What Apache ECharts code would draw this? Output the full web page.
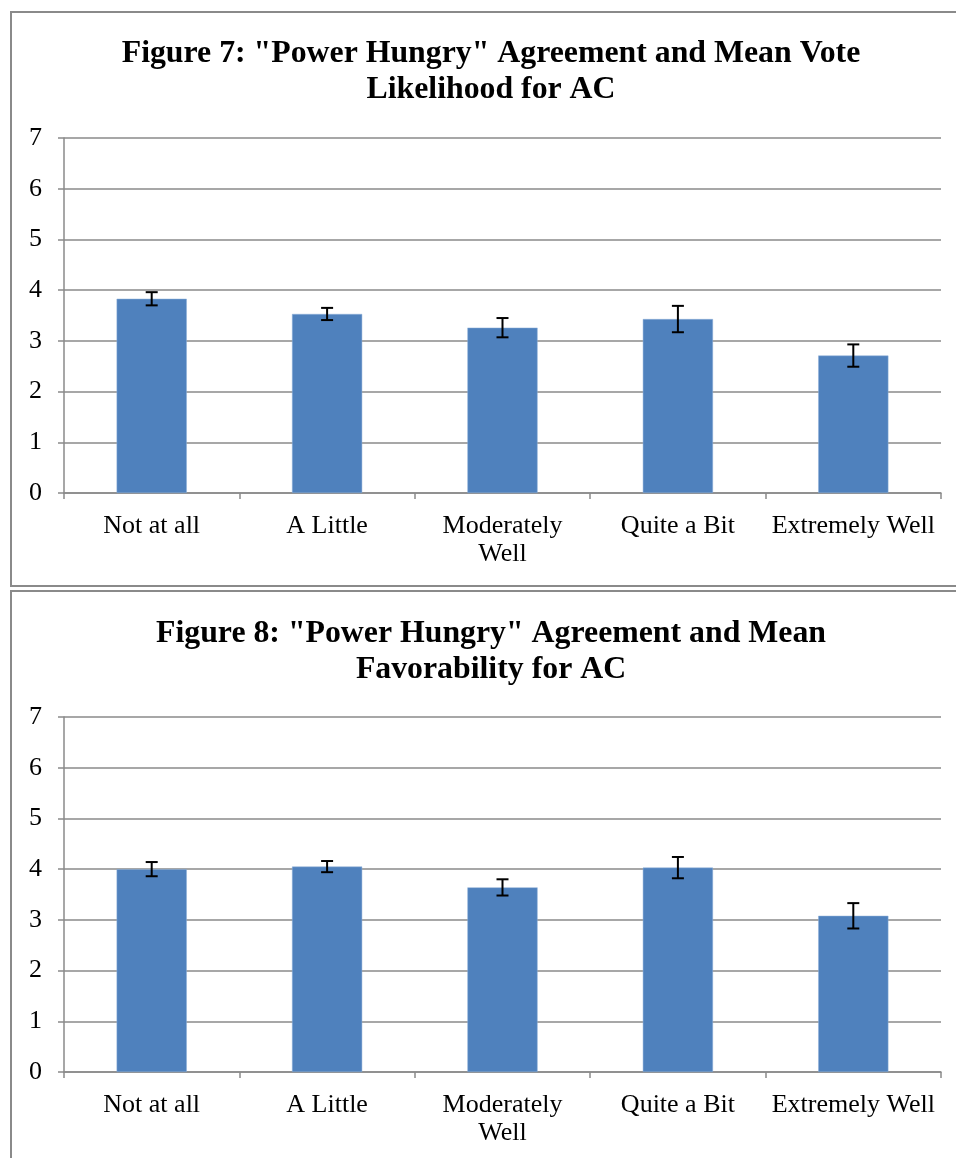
<!DOCTYPE html>
<html>
<head>
<meta charset="utf-8">
<script src="https://cdn.jsdelivr.net/npm/echarts@6/dist/echarts.min.js"></script>
<style>
html,body{margin:0;padding:0;background:#fff;overflow:hidden;}
#c{width:956px;height:1158px;}
</style>
</head>
<body>
<div id="c"></div>
<script>
var categories = ['Not at all', 'A Little', 'Moderately\nWell', 'Quite a Bit', 'Extremely Well'];
var yTicks = [0, 1, 2, 3, 4, 5, 6, 7];
var title7 = 'Figure 7: "Power Hungry" Agreement and Mean Vote\nLikelihood for AC';
var title8 = 'Figure 8: "Power Hungry" Agreement and Mean\nFavorability for AC';
var voteMeans = [3.83, 3.53, 3.26, 3.43, 2.71];
var voteErrors = [0.13, 0.12, 0.19, 0.26, 0.22];
var favMeans = [4.00, 4.05, 3.64, 4.03, 3.08];
var favErrors = [0.14, 0.11, 0.16, 0.21, 0.25];

var FONT = '"Liberation Serif", "Times New Roman", serif';
var GRAY = '#8a8a8a';
var BAR = '#4F81BD';

function errData(means, errs) {
  return means.map(function (m, i) { return [i, m, errs[i]]; });
}

function renderErr(params, api) {
  var idx = api.value(0), m = api.value(1), e = api.value(2);
  var top = api.coord([idx, m + e]);
  var bot = api.coord([idx, m - e]);
  var half = 6;
  var style = { stroke: '#000', lineWidth: 2 };
  return {
    type: 'group',
    children: [
      { type: 'line', shape: { x1: top[0], y1: top[1], x2: bot[0], y2: bot[1] }, style: style },
      { type: 'line', shape: { x1: top[0] - half, y1: top[1], x2: top[0] + half, y2: top[1] }, style: style },
      { type: 'line', shape: { x1: bot[0] - half, y1: bot[1], x2: bot[0] + half, y2: bot[1] }, style: style }
    ]
  };
}

function xAxis(gi) {
  return {
    type: 'category', gridIndex: gi, data: categories,
    axisLine: { lineStyle: { color: GRAY, width: 1.5 } },
    axisTick: { show: true, length: 6, lineStyle: { color: GRAY, width: 1.5 } },
    axisLabel: { color: '#000', fontFamily: FONT, fontSize: 26, margin: 19, lineHeight: 28, interval: 0 },
    splitLine: { show: false }
  };
}
function yAxis(gi) {
  return {
    type: 'value', gridIndex: gi, min: yTicks[0], max: yTicks[yTicks.length - 1], interval: 1,
    axisLine: { show: true, lineStyle: { color: GRAY, width: 1.5 } },
    axisTick: { show: true, length: 6, lineStyle: { color: GRAY, width: 1.5 } },
    axisLabel: { color: '#000', fontFamily: FONT, fontSize: 26, margin: 22 },
    splitLine: { show: true, lineStyle: { color: GRAY, width: 1.5 } }
  };
}

var chart = echarts.init(document.getElementById('c'), null, { renderer: 'canvas' });
chart.setOption({
  animation: false,
  backgroundColor: '#fff',
  title: [
    { text: title7, left: 486, top: 31, textAlign: 'center',
      textStyle: { fontFamily: FONT, fontSize: 31.8, fontWeight: 'bold', color: '#000', lineHeight: 36 } },
    { text: title8, left: 486, top: 611, textAlign: 'center',
      textStyle: { fontFamily: FONT, fontSize: 31.8, fontWeight: 'bold', color: '#000', lineHeight: 36 } }
  ],
  graphic: [
    { type: 'rect', shape: { x: 11, y: 12, width: 965, height: 574 }, style: { fill: 'none', stroke: GRAY, lineWidth: 2 }, z: 100 },
    { type: 'rect', shape: { x: 11, y: 591, width: 965, height: 620 }, style: { fill: 'none', stroke: GRAY, lineWidth: 2 }, z: 100 }
  ],
  grid: [
    { left: 64, top: 138, width: 877, height: 355 },
    { left: 64, top: 717, width: 877, height: 355 }
  ],
  xAxis: [xAxis(0), xAxis(1)],
  yAxis: [yAxis(0), yAxis(1)],
  series: [
    { type: 'bar', xAxisIndex: 0, yAxisIndex: 0, data: voteMeans, barWidth: '40%',
      itemStyle: { color: BAR, borderColor: '#8fb0d8', borderWidth: 0.5 }, z: 2 },
    { type: 'custom', xAxisIndex: 0, yAxisIndex: 0, data: errData(voteMeans, voteErrors),
      renderItem: renderErr, z: 5 },
    { type: 'bar', xAxisIndex: 1, yAxisIndex: 1, data: favMeans, barWidth: '40%',
      itemStyle: { color: BAR, borderColor: '#8fb0d8', borderWidth: 0.5 }, z: 2 },
    { type: 'custom', xAxisIndex: 1, yAxisIndex: 1, data: errData(favMeans, favErrors),
      renderItem: renderErr, z: 5 }
  ]
});
</script>
</body>
</html>
